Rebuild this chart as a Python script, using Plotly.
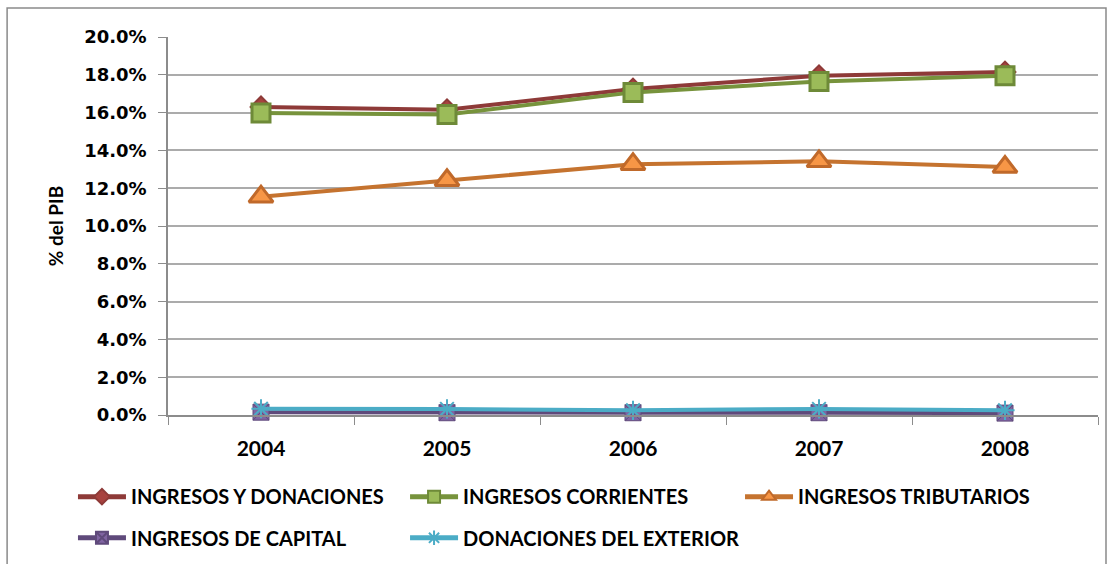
import plotly.graph_objects as go

years = ["2004", "2005", "2006", "2007", "2008"]

ingresos_donaciones = [16.3, 16.15, 17.25, 17.95, 18.15]
ingresos_corrientes = [15.98, 15.9, 17.07, 17.65, 17.95]
ingresos_tributarios = [11.55, 12.42, 13.27, 13.42, 13.12]
ingresos_capital = [0.15, 0.12, 0.12, 0.12, 0.1]
donaciones_exterior = [0.33, 0.32, 0.25, 0.32, 0.25]

y_ticks = [0, 2, 4, 6, 8, 10, 12, 14, 16, 18, 20]
y_tick_text = [f"{v:.1f}%" for v in y_ticks]

FONT = "Lato"
TICK_FONT_Y = "DejaVu Sans"

# legend slot per series: (legend id, x, y) in container fractions
series = [
    dict(name="INGRESOS Y DONACIONES", y=ingresos_donaciones, line="#8E3A38",
         slot=("legend", 0.0655, 0.154),
         marker=dict(symbol="diamond", size=16, color="#A8423F",
                     line=dict(color="#8E3A38", width=2))),
    dict(name="INGRESOS CORRIENTES", y=ingresos_corrientes, line="#77933C",
         slot=("legend2", 0.3636, 0.154),
         marker=dict(symbol="square", size=18, color="#9BBB59",
                     line=dict(color="#6E8A38", width=3))),
    dict(name="INGRESOS TRIBUTARIOS", y=ingresos_tributarios, line="#C5732F",
         slot=("legend3", 0.6643, 0.154),
         marker=dict(symbol="triangle-up", size=21, color="#F79646",
                     line=dict(color="#C0692A", width=3))),
    dict(name="INGRESOS DE CAPITAL", y=ingresos_capital, line="#5F4A7B",
         slot=("legend4", 0.0655, 0.081),
         marker=dict(symbol="square-x", size=16, color="#8064A2",
                     line=dict(color="#5F4A7B", width=1))),
    dict(name="DONACIONES DEL EXTERIOR", y=donaciones_exterior, line="#4BACC6",
         slot=("legend5", 0.3636, 0.081),
         marker=dict(symbol="asterisk", size=16, color="#4BACC6",
                     line=dict(color="#4BACC6", width=2))),
]

fig = go.Figure()
for s in series:
    fig.add_trace(go.Scatter(
        x=years, y=s["y"], name=s["name"], mode="lines+markers",
        line=dict(color=s["line"], width=4),
        marker=s["marker"], cliponaxis=False, legend=s["slot"][0],
    ))

legend_common = dict(
    orientation="h", xanchor="left", xref="container",
    yanchor="top", yref="container", itemwidth=48,
    font=dict(family=FONT, size=20, weight="bold", color="black"),
    itemsizing="constant", bgcolor="rgba(0,0,0,0)",
)
legends = {s["slot"][0]: dict(legend_common, x=s["slot"][1], y=s["slot"][2])
           for s in series}

fig.update_layout(
    width=1114, height=564,
    margin=dict(l=168, r=16, t=37, b=149),
    paper_bgcolor="white", plot_bgcolor="white",
    font=dict(family=FONT, color="black", size=18, weight="bold"),
    showlegend=True,
    **legends,
    xaxis=dict(
        type="category", range=[-0.5, 4.5],
        showline=True, linecolor="#8C8C8C", linewidth=1.5,
        ticks="outside", tickson="boundaries", ticklen=8, tickcolor="#8C8C8C",
        showgrid=False, ticklabelstandoff=14,
        tickfont=dict(family=FONT, size=21, weight="bold"),
    ),
    yaxis=dict(
        range=[0, 20], tickvals=y_ticks, ticktext=y_tick_text,
        showline=True, linecolor="#8C8C8C", linewidth=1.5,
        ticks="outside", ticklen=8, tickcolor="#8C8C8C",
        showgrid=True, gridcolor="#ABABAB", gridwidth=1.5,
        zeroline=False, ticklabelstandoff=8,
        tickfont=dict(family=TICK_FONT_Y, size=18, weight="bold"),
        title=dict(text="% del PIB", standoff=16,
                   font=dict(family=FONT, size=19, weight="bold")),
    ),
    shapes=[dict(
        type="rect", xref="paper", yref="paper",
        x0=-0.173, x1=1.0086, y0=-0.41, y1=1.0767,
        line=dict(color="#8A8A8A", width=1.5), fillcolor="rgba(0,0,0,0)",
        layer="below",
    )],
)

fig.write_html("out.html")
